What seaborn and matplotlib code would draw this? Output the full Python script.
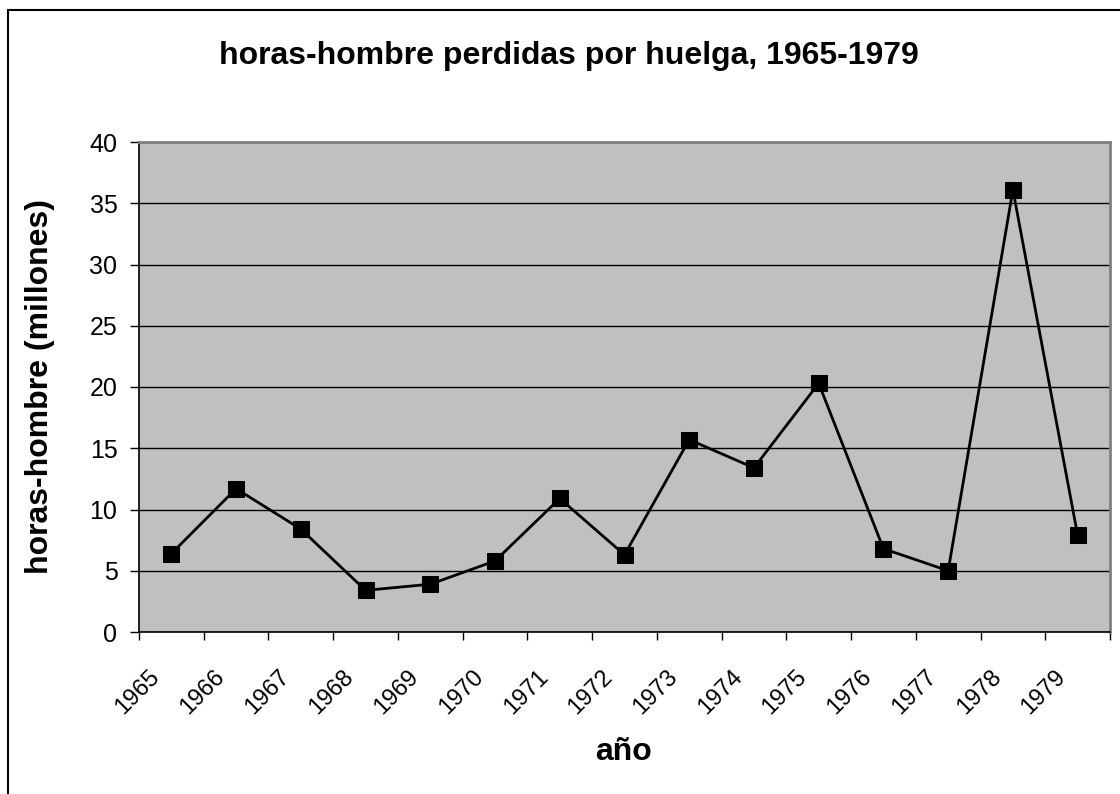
import matplotlib
matplotlib.use("Agg")
import matplotlib.pyplot as plt
import matplotlib.transforms as mtrans
import seaborn as sns
import pandas as pd
from matplotlib.patches import Rectangle
from matplotlib.ticker import FixedLocator, NullFormatter

years = [1965, 1966, 1967, 1968, 1969, 1970, 1971, 1972, 1973, 1974,
         1975, 1976, 1977, 1978, 1979]
hours = [6.4, 11.7, 8.4, 3.4, 3.9, 5.8, 10.9, 6.3, 15.7, 13.4,
         20.3, 6.8, 5.0, 36.1, 7.9]
title = "horas-hombre perdidas por huelga, 1965-1979"
xlabel = "año"
ylabel = "horas-hombre (millones)"

df = pd.DataFrame({"year": years, "hours": hours})

sns.set_style("white")
plt.rcParams["font.family"] = ["Liberation Sans", "DejaVu Sans"]
plt.rcParams["text.color"] = "black"
plt.rcParams["xtick.color"] = "black"
plt.rcParams["ytick.color"] = "black"

fig = plt.figure(figsize=(11.2, 7.94), dpi=100)
ax = fig.add_axes([139/1120, 1-632/794, (1110-139)/1120, (632-142)/794])
ax.set_facecolor("#C0C0C0")

sns.lineplot(data=df, x="year", y="hours", ax=ax, color="black", lw=2,
             marker="s", markersize=11, markerfacecolor="black",
             markeredgecolor="black")

ax.set_xlim(years[0]-0.5, years[-1]+0.5)
ax.set_ylim(0, 40)
ax.set_yticks(range(0, 41, 5))
ax.yaxis.grid(True, color="black", lw=1)
ax.set_axisbelow(True)

bounds = [y-0.5 for y in years] + [years[-1]+0.5]
ax.xaxis.set_major_locator(FixedLocator(bounds))
ax.xaxis.set_major_formatter(NullFormatter())
ax.xaxis.set_minor_locator(FixedLocator(years))
ax.set_xticklabels([str(y) for y in years], minor=True)
ax.tick_params(axis="x", which="major", length=6, width=1, color="black", direction="out", bottom=True)
ax.tick_params(axis="x", which="minor", length=0, pad=30, labelsize=17, bottom=True)
ax.tick_params(axis="y", length=6.5, width=1, color="black", direction="out", labelsize=18, pad=9, left=True)
shift = mtrans.ScaledTranslation(-0.15, 0, fig.dpi_scale_trans)
for lab in ax.get_xticklabels(minor=True):
    lab.set_rotation(45)
    lab.set_ha("right")
    lab.set_va("center")
    lab.set_rotation_mode("anchor")
    lab.set_transform(lab.get_transform() + shift)

ax.set_xlabel("")
ax.set_ylabel("")
for s in ["top", "right"]:
    ax.spines[s].set_color("#808080")
    ax.spines[s].set_linewidth(2)
for s in ["left", "bottom"]:
    ax.spines[s].set_color("black")
    ax.spines[s].set_linewidth(1.2)

fig.text(569/1120, 1-56/794, title, ha="center", va="center", fontsize=23, fontweight="bold")
fig.text(40/1120, 1-387/794, ylabel, ha="center", va="center", rotation=90, fontsize=23, fontweight="bold")
fig.text(624/1120, 1-752/794, xlabel, ha="center", va="center", fontsize=23, fontweight="bold")

fig.patches.append(Rectangle((8/1120, -0.1), 1.2, 1-10/794+0.1, transform=fig.transFigure,
                             fill=False, edgecolor="black", lw=1.5))

fig.savefig("out.png", dpi=100)
